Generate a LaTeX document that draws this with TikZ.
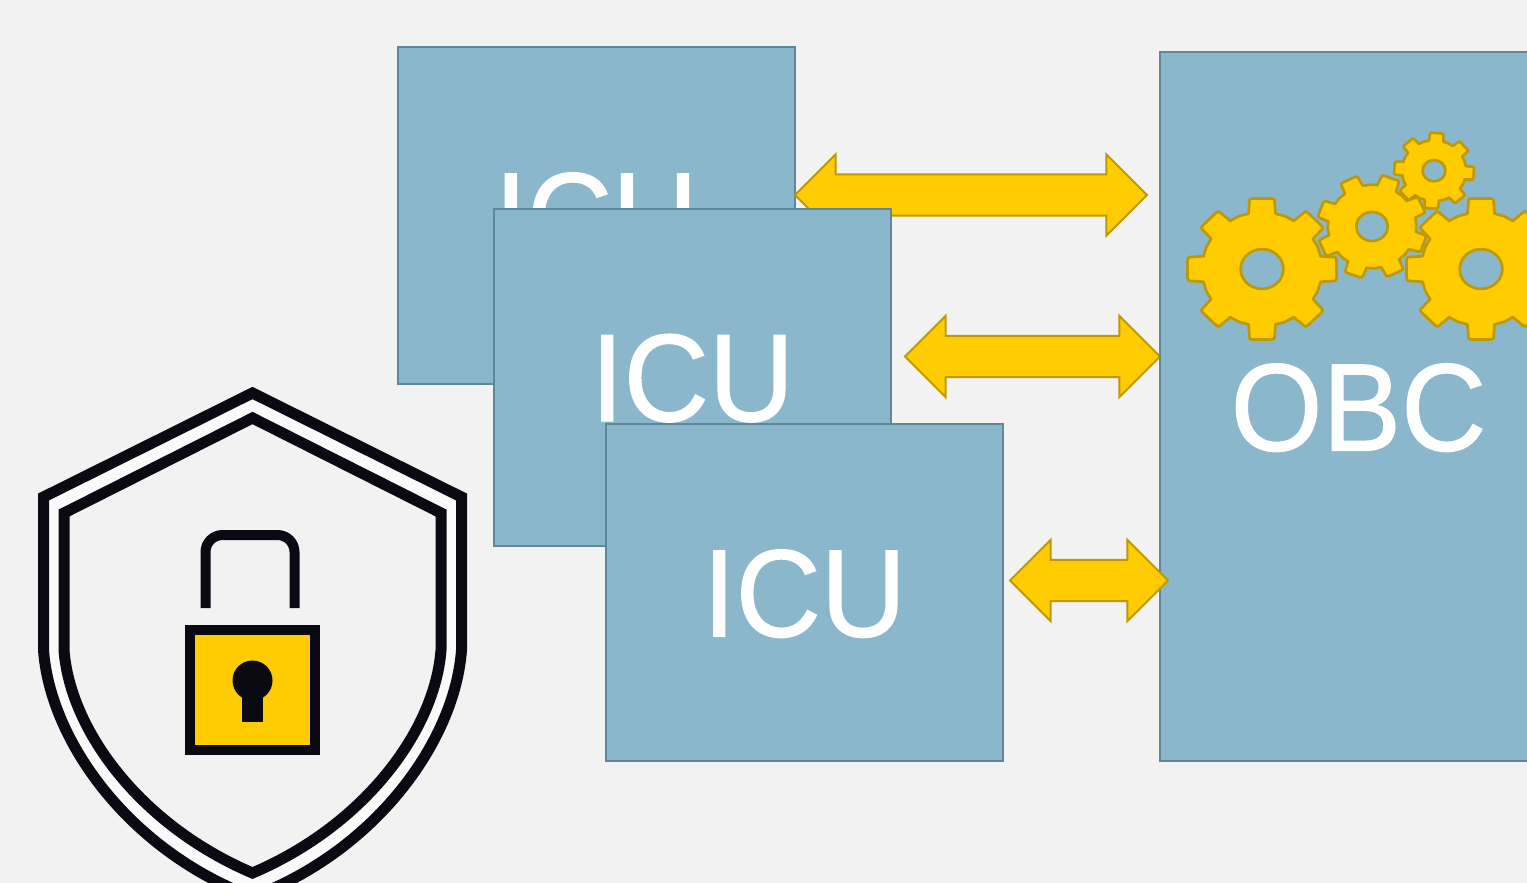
\documentclass[tikz,border=0pt]{standalone}
\usepackage{fontspec}
\usepackage{graphicx}
\setmainfont{Liberation Sans}
\newfontface\lblfont{Liberation Sans}[FakeBold=1.0]
\newcommand{\unitlabel}[1]{\scalebox{1}[1.055]{#1}}
\usetikzlibrary{shapes.arrows}
\definecolor{bgc}{HTML}{F2F2F2}
\definecolor{gapc}{HTML}{FAFAFA}
\definecolor{boxc}{HTML}{8BB7CD}
\definecolor{boxl}{HTML}{5F8799}
\definecolor{gold}{HTML}{FFCC00}
\definecolor{goldl}{HTML}{BF9900}
\definecolor{ink}{HTML}{0B0A12}
\tikzset{
  unitbox/.style={draw=boxl,fill=boxc,line width=2pt,anchor=north west,inner sep=0pt,outer sep=0pt,
    text=white,text height=88pt,text depth=0pt,font=\lblfont\fontsize{118}{120}\selectfont},
  dblarrow/.style={double arrow,double arrow head extend=20pt,double arrow tip angle=90,
    draw=goldl,fill=gold,line width=2pt,inner xsep=0pt,inner ysep=19.6pt,outer sep=0pt},
  gearshape/.style={draw=goldl,fill=gold,line width=2.7pt,even odd rule,line join=round},
  inkline/.style={draw=ink,line width=11pt,line join=miter}
}
\newcommand{\mygear}[5]{% cx cy rx ry rot
  \path[gearshape,shift={(#1,#2)},xscale=#3,yscale=#4]
    (#5-13:.80)
    \foreach \a in {0,45,...,270}{
      -- (\a+#5-10.2:.955) .. controls (\a+#5-9.6:1) .. (\a+#5-7:1) -- (\a+#5+7:1)
      .. controls (\a+#5+9.6:1) .. (\a+#5+10.2:.955) -- (\a+#5+13:.80)
      -- (\a+#5+17.5:.80) -- (\a+#5+22.5:.805) -- (\a+#5+27.5:.80) -- (\a+#5+32:.80)
    }
    -- (315+#5-10.2:.955) .. controls (315+#5-9.6:1) .. (315+#5-7:1) -- (315+#5+7:1)
    .. controls (315+#5+9.6:1) .. (315+#5+10.2:.955) -- (315+#5+13:.80)
    -- (315+#5+17.5:.80) -- (315+#5+22.5:.805) -- (315+#5+27.5:.80) -- cycle
    (0,0) ellipse (.285 and .28);
}
\begin{document}
\begin{tikzpicture}[x=1pt,y=-1pt]
\useasboundingbox (0,0) rectangle (1527,883);
\clip (0,0) rectangle (1527,883);
\fill[bgc] (0,0) rectangle (1527,883);
% units
\node[unitbox,minimum width=397pt,minimum height=337pt] (icuA) at (397.5,47) {\unitlabel{ICU}};
\node[dblarrow,minimum height=352pt,minimum width=80pt] (arrA) at (971,195) {};
\node[unitbox,minimum width=397pt,minimum height=337pt] (icuB) at (494,208.5) {\unitlabel{ICU}};
\node[dblarrow,minimum height=255pt,minimum width=80pt] (arrB) at (1032.5,356.5) {};
\node[unitbox,minimum width=397pt,minimum height=337pt] (icuC) at (606,424) {\unitlabel{ICU}};
\node[unitbox,minimum width=397pt,minimum height=709pt] (obc) at (1160,52) {\unitlabel{OBC}};
\node[dblarrow,minimum height=158pt,minimum width=80pt] (arrC) at (1089,580.5) {};
% gears
\mygear{1434}{170.7}{40}{38}{4}
\mygear{1262}{269}{75}{71}{0}
\mygear{1481}{269}{75}{71}{0}
\mygear{1372}{226.5}{55}{52}{20}
% shield
\path[inkline,fill=gapc,miter limit=10]
  (252.5,393) -- (43.5,497) -- (43.5,650)
  .. controls (50,740) and (128,850) .. (252.5,897)
  .. controls (377,850) and (455,740) .. (461.5,650)
  -- (461.5,497) -- cycle;
\path[inkline,fill=bgc,miter limit=10]
  (252.5,418) -- (64,513) -- (64,650)
  .. controls (70,730) and (140,825) .. (252.5,873)
  .. controls (365,825) and (435,730) .. (441,650)
  -- (441,513) -- cycle;
% lock
\path[inkline,line width=10pt] (205.5,608) -- (205.5,552) arc[start angle=180,end angle=270,radius=17] -- (277.5,535)
  arc[start angle=270,end angle=360,radius=17] -- (294.5,608);
\path[inkline,line width=10pt,fill=gold] (190,629.5) rectangle (315,750);
\fill[ink] (252.5,680.5) circle (20);
\fill[ink] (242,690) rectangle (263,722);
\end{tikzpicture}
\end{document}
